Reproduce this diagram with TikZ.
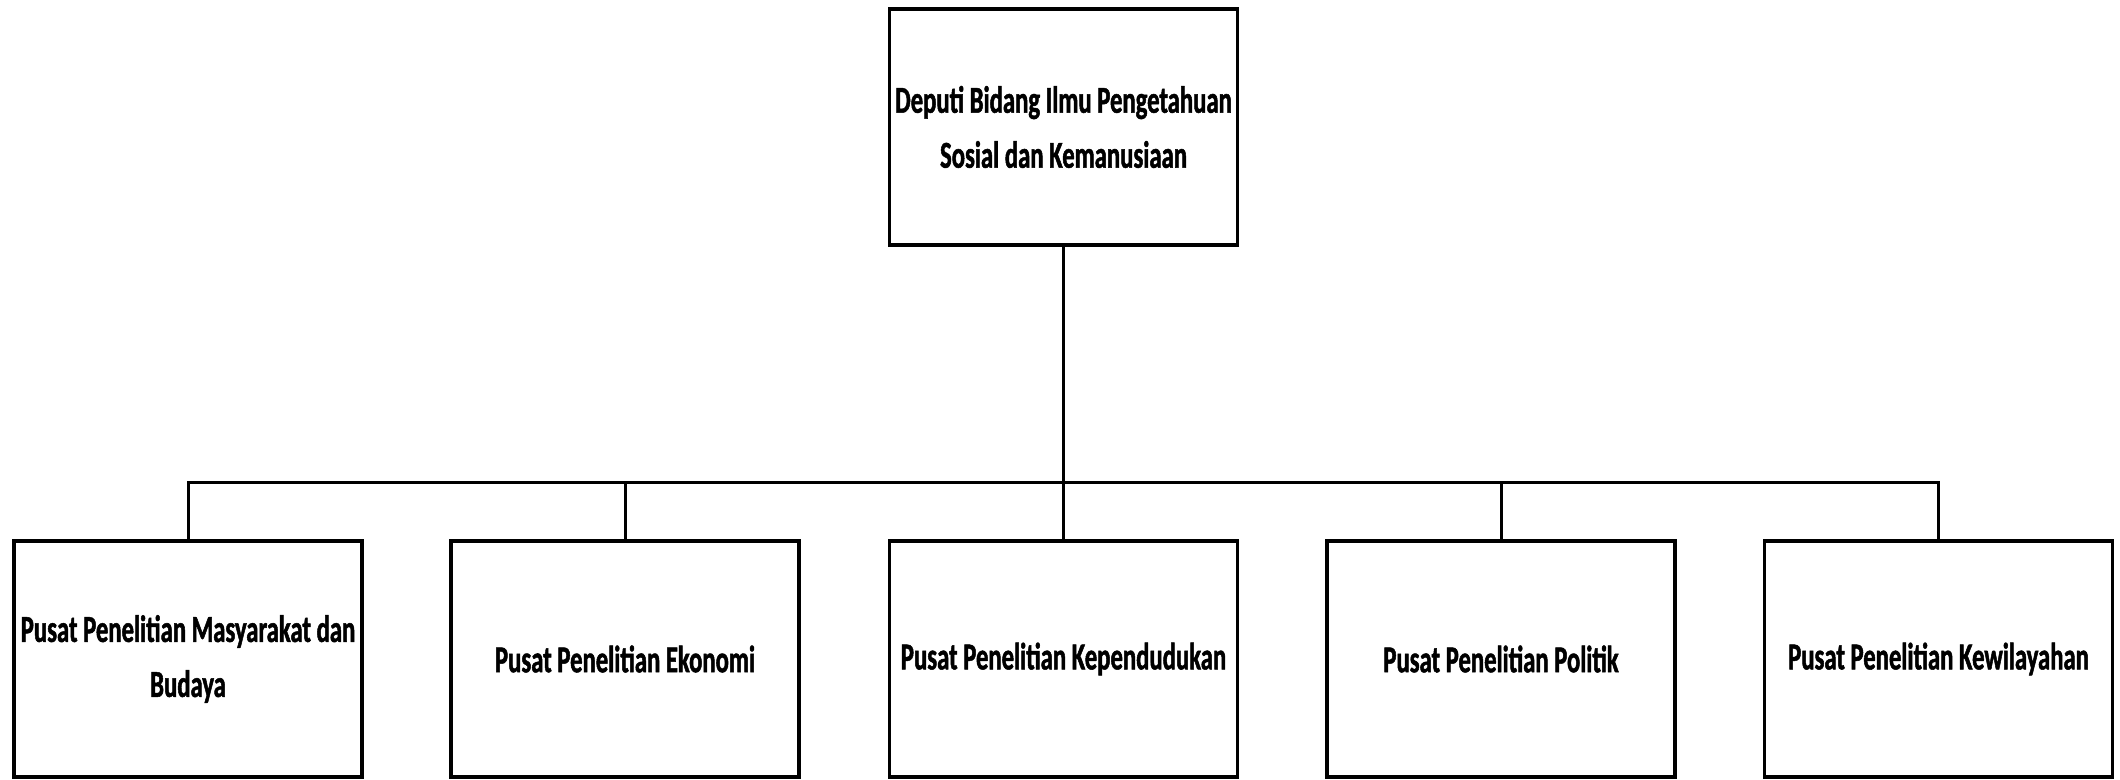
\documentclass[tikz,border=0pt]{standalone}
\usepackage{fontspec}
\newfontfamily\boxfont{Carlito}[FakeStretch=0.65, BoldFeatures={FakeBold=1.3}]
\begin{document}
\begin{tikzpicture}[x=1pt,y=-1pt,
  orgbox/.style={draw, line width=3.5pt, rectangle, minimum width=348pt, minimum height=236pt, align=center, inner sep=0pt,
    font=\boxfont\bfseries\fontsize{38}{55}\selectfont},
  link/.style={line width=3pt}]
\useasboundingbox (0,0) rectangle (2120,779);
\node[orgbox] (top) at (1063.5,127) {Deputi Bidang Ilmu Pengetahuan\\Sosial dan Kemanusiaan};
\node[orgbox] (b1) at (188,659) {Pusat Penelitian Masyarakat dan\\Budaya};
\node[orgbox] (b2) at (625,659) {Pusat Penelitian Ekonomi};
\node[orgbox] (b3) at (1063.5,659) {Pusat Penelitian Kependudukan};
\node[orgbox] (b4) at (1501,659) {Pusat Penelitian Politik};
\node[orgbox] (b5) at (1938.5,659) {Pusat Penelitian Kewilayahan};
\coordinate (bus) at (1063.5,482);
\draw[link] (top.south) -- (b3.north);
\draw[link] (b1.north) |- (bus) -| (b5.north);
\draw[link] (b2.north) -- (b2.north |- bus);
\draw[link] (b4.north) -- (b4.north |- bus);
\end{tikzpicture}
\end{document}
